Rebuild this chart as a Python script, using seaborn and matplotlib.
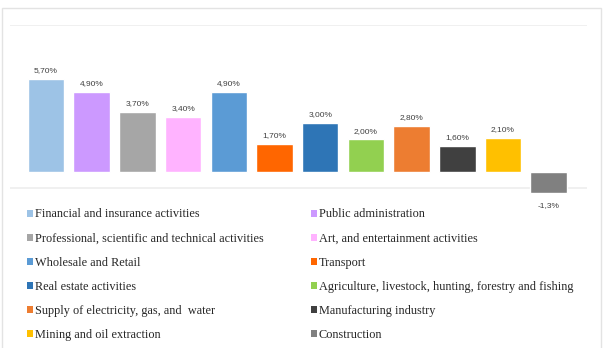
import matplotlib
matplotlib.use('Agg')
import matplotlib.pyplot as plt
from matplotlib.patches import Patch, Rectangle
import seaborn as sns

sectors = [
    'Financial and insurance activities',
    'Public administration',
    'Professional, scientific and technical activities',
    'Art, and entertainment activities',
    'Wholesale and Retail',
    'Transport',
    'Real estate activities',
    'Agriculture, livestock, hunting, forestry and fishing',
    'Supply of electricity, gas, and  water',
    'Manufacturing industry',
    'Mining and oil extraction',
    'Construction',
]
growth = [5.7, 4.9, 3.7, 3.4, 4.9, 1.7, 3.0, 2.0, 2.8, 1.6, 2.1, -1.3]
value_labels = ['5,70%', '4,90%', '3,70%', '3,40%', '4,90%', '1,70%',
                '3,00%', '2,00%', '2,80%', '1,60%', '2,10%', '-1,3%']
colors = ['#9DC3E6', '#CC99FF', '#A6A6A6', '#FFB3FF', '#5B9BD5', '#FF6600',
          '#2E75B6', '#92D050', '#ED7D31', '#404040', '#FFC000', '#808080']

sns.set_theme(style='white')

fig = plt.figure(figsize=(6.05, 3.48), dpi=100)
ax = fig.add_axes([0.0165, 0.4353, 0.9537, 0.492])

sns.barplot(x=sectors, y=growth, hue=sectors, palette=colors, legend=False,
            width=0.8, saturation=1, ax=ax)

for container, lab, v in zip(ax.containers, value_labels, growth):
    ax.bar_label(container, labels=[lab], padding=3.5 if v >= 0 else 6,
                 fontsize=6, family='Liberation Sans', color='#404040')

# faint gridlines at top and bottom of the plot area
ax.axhline(9, color='#EEEEEE', lw=1.2, zorder=0)
ax.axhline(-1, color='#EEEEEE', lw=1.2, zorder=0)

ax.set_xlim(-0.79, 11.84)
ax.set_ylim(-1.5, 9.0)
ax.set_xticks([])
ax.set_yticks([])
ax.set_xlabel('')
ax.set_ylabel('')
sns.despine(ax=ax, left=True, bottom=True)

# chart border
fig.patches.append(Rectangle((2 / 605, -0.01), 599 / 605, 1 - 8 / 348 + 0.01,
                             transform=fig.transFigure, fill=False,
                             edgecolor='#E3E3E3', lw=1))

# legend laid out row by row in two columns
handles = [Patch(facecolor=c, edgecolor='none') for c in colors]
order = list(range(0, 12, 2)) + list(range(1, 12, 2))
fig.legend([handles[i] for i in order], [sectors[i] for i in order],
           loc='upper left', bbox_to_anchor=(27 / 605, 0.401), ncol=2,
           frameon=False, borderpad=0, borderaxespad=0,
           handlelength=0.5, handleheight=0.5, handletextpad=0.15,
           labelspacing=0.99, columnspacing=3.85,
           prop={'family': 'Liberation Serif', 'size': 8.8})

plt.savefig('out.png', dpi=100)
